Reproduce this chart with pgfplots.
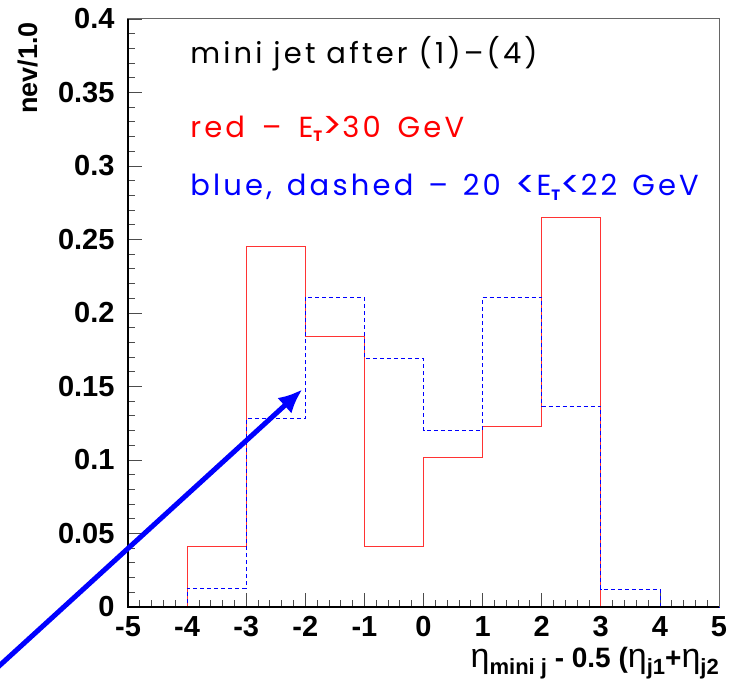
\documentclass[border=0pt]{standalone}
\usepackage{fontspec}
\setmainfont{Liberation Sans}
\newfontfamily\gfont[LetterSpace=11]{Poppins}
\usepackage{pgfplots}
\pgfplotsset{compat=1.18}
\usetikzlibrary{arrows.meta,calc}
\newcommand{\bigsym}[1]{\raisebox{-0.06em}{\scalebox{1.28}{#1}}}
\newcommand{\subT}{\raisebox{-0.3ex}{\fontsize{15}{15}\selectfont\bfseries T}}
\begin{document}
\begin{tikzpicture}
\begin{axis}[
  name=ax,
  scale only axis,
  width=591pt, height=588pt,
  xmin=-5, xmax=5, ymin=0, ymax=0.4,
  xtick={-5,-4,...,5},
  ytick={0,0.05,0.1,0.15,0.2,0.25,0.3,0.35,0.4},
  yticklabels={0,0.05,0.1,0.15,0.2,0.25,0.3,0.35,0.4},
  minor x tick num=4,
  minor y tick num=4,
  xtick pos=bottom, ytick pos=left,
  tick align=inside,
  major tick length=14pt, minor tick length=7pt,
  tick style={black!70, line width=0.8pt},
  axis line style={black!60, line width=1pt},
  /pgf/number format/assume math mode=true,
  tick label style={font=\fontsize{29}{29}\selectfont\bfseries},
  yticklabel style={xshift=-10pt},
  xticklabel style={yshift=-6pt},
  scaled y ticks=false,
  clip=false,
]
\addplot[const plot, red!80, line width=0.8pt] coordinates {
(-5,0) (-4,0.041) (-3,0.245) (-2,0.184) (-1,0.041) (0,0.102) (1,0.1227) (2,0.265) (3,0) (4,0) (5,0)};
\addplot[const plot, blue, line width=0.8pt, dash pattern=on 4pt off 3pt] coordinates {
(-5,0) (-4,0.0127) (-3,0.128) (-2,0.2107) (-1,0.169) (0,0.12) (1,0.2107) (2,0.1365) (3,0.0122) (4,0) (5,0)};
\draw[black, line width=1.3pt] (rel axis cs:0,1) -- (rel axis cs:0,0) -- (rel axis cs:1,0);
\node[anchor=base west, inner sep=0pt, font=\gfont\fontsize{29}{29}\selectfont] at (axis cs:-3.95,0.370) {mini jet after (1)–(4)};
\node[anchor=base west, inner sep=0pt, text=red, font=\gfont\fontsize{29}{29}\selectfont] at (axis cs:-3.95,0.3197) {red\hspace{6pt} –\hspace{6pt} E\subT\bigsym{>}30\hspace{6pt} GeV};
\node[anchor=base west, inner sep=0pt, text=blue, font=\gfont\fontsize{29}{29}\selectfont] at (axis cs:-3.95,0.280) {blue,\hspace{4pt} dashed\hspace{4pt} –\hspace{4pt} 20\hspace{4pt} \bigsym{<}E\subT\bigsym{<}22\hspace{4pt} GeV};
\draw[blue, line width=5pt, -{Latex[length=24pt,width=21pt]}] (axis cs:-7.3,-0.0445) -- (axis cs:-2.05,0.148);
\node[anchor=base east, rotate=90, inner sep=0pt, font=\fontsize{27}{27}\selectfont\bfseries] at ($(rel axis cs:0,1)+(-90pt,-3pt)$) {nev/1.0};
\node[anchor=base east, inner sep=0pt, font=\fontsize{28}{28}\selectfont\bfseries] at ($(rel axis cs:1,0)+(0pt,-61pt)$) {{\mdseries\fontsize{34}{34}\selectfont η}\raisebox{-0.45ex}{\fontsize{22}{22}\selectfont mini j} - 0.5 ({\mdseries\fontsize{34}{34}\selectfont η}\raisebox{-0.45ex}{\fontsize{22}{22}\selectfont j1}+{\mdseries\fontsize{34}{34}\selectfont η}\raisebox{-0.45ex}{\fontsize{22}{22}\selectfont j2}};
\end{axis}
\pgfresetboundingbox
\path ($(ax.south west)+(-128pt,-76pt)$) rectangle ($(ax.north east)+(10pt,19pt)$);
\end{tikzpicture}
\end{document}
